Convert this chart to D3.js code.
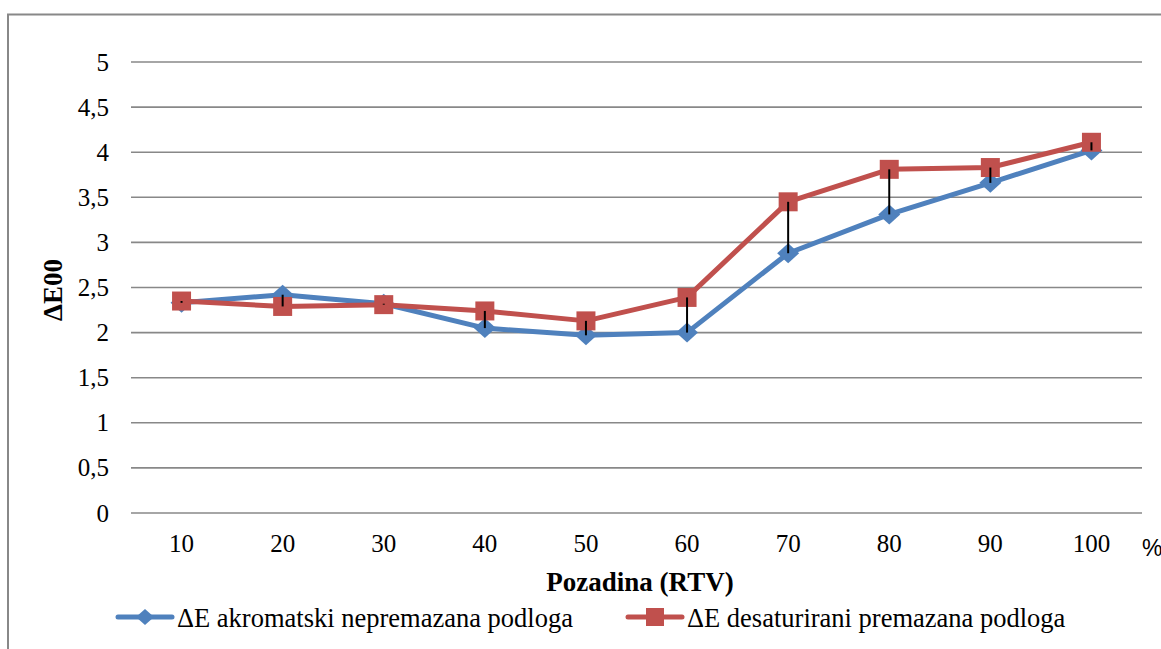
<!DOCTYPE html>
<html>
<head>
<meta charset="utf-8">
<script src="https://cdn.jsdelivr.net/npm/d3@7"></script>
<style>
  html, body { margin: 0; padding: 0; background: #fff; }
  svg { display: block; }
  text { font-family: "Liberation Serif", "Times New Roman", serif; fill: #000; }
</style>
</head>
<body>
<svg id="chart" width="1161" height="649"></svg>
<script>
// Background tone (RTV %) on the x axis
const categories = ["10", "20", "30", "40", "50", "60", "70", "80", "90", "100"];
// ΔE00 per background tone, achromatic on uncoated substrate
const akromatski = [2.33, 2.42, 2.32, 2.05, 1.97, 2.00, 2.88, 3.31, 3.66, 4.02];
// ΔE00 per background tone, desaturated on coated substrate
const desaturirani = [2.35, 2.29, 2.31, 2.24, 2.13, 2.39, 3.45, 3.81, 3.83, 4.11];
// y axis ticks
const yTicks = [0, 0.5, 1, 1.5, 2, 2.5, 3, 3.5, 4, 4.5, 5];
const seriesNames = ["ΔE akromatski nepremazana podloga", "ΔE desaturirani premazana podloga"];

const BLUE = "#4F81BD", RED = "#C0504D", GRID = "#888888";

const svg = d3.select("#chart");

// chart frame (top and left edges)
svg.append("path")
  .attr("d", "M8,649 L8,14.5 L1161,14.5")
  .attr("fill", "none").attr("stroke", GRID).attr("stroke-width", 2);

const x = d3.scaleBand().domain(categories).range([131, 1142]);
const y = d3.scaleLinear().domain([0, 5]).range([513, 62]);
const cx = c => x(c) + x.bandwidth() / 2;

// horizontal gridlines
svg.append("g").selectAll("line").data(yTicks).join("line")
  .attr("x1", 131).attr("x2", 1142)
  .attr("y1", d => y(d)).attr("y2", d => y(d))
  .attr("stroke", GRID).attr("stroke-width", 1.6);

// y tick labels (decimal comma)
const fmt = d => String(d).replace(".", ",");
svg.append("g").selectAll("text").data(yTicks).join("text")
  .attr("x", 109).attr("y", d => y(d)).attr("dy", "0.34em")
  .attr("text-anchor", "end").attr("font-size", 25)
  .text(fmt);

// x tick labels
svg.append("g").selectAll("text").data(categories).join("text")
  .attr("x", d => cx(d)).attr("y", 552)
  .attr("text-anchor", "middle").attr("font-size", 25)
  .text(d => d);

svg.append("text")
  .attr("x", 1142).attr("y", 556)
  .style("font-family", "'Liberation Sans', Arial, sans-serif")
  .attr("font-size", 23).text("%");

// axis titles
svg.append("text")
  .attr("x", 640).attr("y", 591).attr("text-anchor", "middle")
  .attr("font-size", 27).attr("font-weight", "bold")
  .text("Pozadina (RTV)");

svg.append("text")
  .attr("transform", "translate(62,290) rotate(-90)")
  .attr("text-anchor", "middle")
  .attr("font-size", 27).attr("font-weight", "bold")
  .text("ΔE00");

// marker shapes
const diamond = (r) => `M0,${-r} L${r + 1},0 L0,${r} L${-r - 1},0 Z`;
const square = (s) => `M${-s},${-s} H${s} V${s} H${-s} Z`;

const line = d3.line().x((d, i) => cx(categories[i])).y(d => y(d));

function drawSeries(values, color, markerPath) {
  const g = svg.append("g");
  g.append("path").datum(values)
    .attr("d", line).attr("fill", "none")
    .attr("stroke", color).attr("stroke-width", 5)
    .attr("stroke-linejoin", "round").attr("stroke-linecap", "round");
  g.selectAll("path.m").data(values).join("path").attr("class", "m")
    .attr("transform", (d, i) => `translate(${cx(categories[i])},${y(d)})`)
    .attr("d", markerPath).attr("fill", color);
}

drawSeries(akromatski, BLUE, diamond(10));
drawSeries(desaturirani, RED, square(9.5));

// high-low lines between the two series
svg.append("g").selectAll("line").data(categories).join("line")
  .attr("x1", d => cx(d)).attr("x2", d => cx(d))
  .attr("y1", (d, i) => y(akromatski[i]))
  .attr("y2", (d, i) => y(desaturirani[i]))
  .attr("stroke", "#000").attr("stroke-width", 2);

// legend
const legend = [
  { name: seriesNames[0], color: BLUE, marker: diamond(8), x0: 118 },
  { name: seriesNames[1], color: RED, marker: square(9), x0: 628 }
];
const lg = svg.append("g").selectAll("g").data(legend).join("g")
  .attr("transform", d => `translate(${d.x0},617)`);
lg.append("line").attr("x1", 0).attr("x2", 54).attr("y1", 0).attr("y2", 0)
  .attr("stroke", d => d.color).attr("stroke-width", 5).attr("stroke-linecap", "round");
lg.append("path").attr("transform", "translate(27,0)")
  .attr("d", d => d.marker).attr("fill", d => d.color);
lg.append("text").attr("x", 59).attr("y", 10)
  .attr("font-size", 26.5).text(d => d.name);
</script>
</body>
</html>
